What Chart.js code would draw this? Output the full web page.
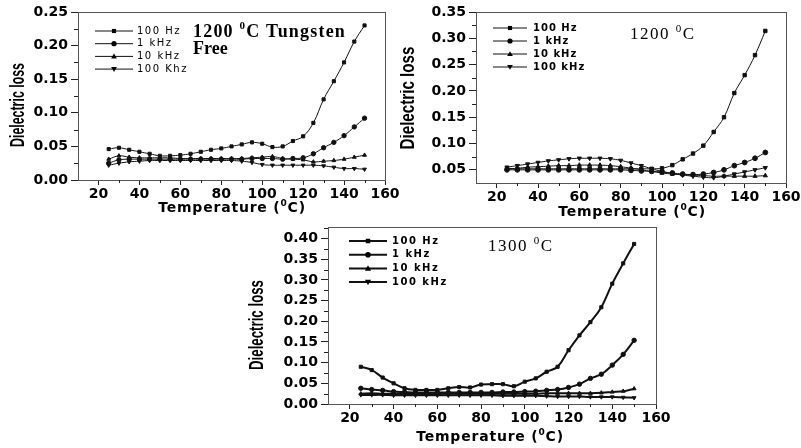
<!DOCTYPE html>
<html>
<head>
<meta charset="utf-8">
<script src="https://cdn.jsdelivr.net/npm/chart.js@4.4.0/dist/chart.umd.min.js"></script>
<style>
  body { margin: 0; background: #fff; }
  #wrap { position: relative; width: 801px; height: 448px; overflow: hidden; background: #fff; }
  canvas { position: absolute; }
</style>
</head>
<body>
<div id="wrap">
  <canvas id="c1" width="400" height="225" style="left:0px;top:0px"></canvas>
  <canvas id="c2" width="401" height="225" style="left:400px;top:0px"></canvas>
  <canvas id="c3" width="440" height="231" style="left:240px;top:217px"></canvas>
</div>
<script>
// temperatures (deg C) and x axis ticks, shared by all three panels
var temps = [25,30,35,40,45,50,55,60,65,70,75,80,85,90,95,100,105,110,115,120,125,130,135,140,145,150];
var xTickVals = [20,40,60,80,100,120,140,160];
var xMinorVals = [30,50,70,90,110,130,150];

var yTitleText = 'Dielectric loss';
var xTitleText = 'Temperature (^0C)';

// panel 1 : 1200 C tungsten free
var p1Names = ['100 Hz','1 kHz','10 kHz','100 Khz'];
var p1Hz100  = [0.046,0.048,0.045,0.042,0.039,0.036,0.036,0.037,0.039,0.042,0.045,0.047,0.050,0.053,0.056,0.054,0.049,0.050,0.058,0.065,0.085,0.120,0.147,0.175,0.206,0.230];
var p1kHz1   = [0.025,0.030,0.031,0.031,0.031,0.031,0.031,0.031,0.031,0.031,0.031,0.031,0.031,0.031,0.032,0.032,0.032,0.031,0.032,0.033,0.039,0.048,0.056,0.066,0.079,0.092];
var p1kHz10  = [0.031,0.036,0.034,0.033,0.033,0.033,0.033,0.032,0.032,0.032,0.032,0.032,0.032,0.032,0.033,0.034,0.035,0.032,0.031,0.030,0.027,0.028,0.029,0.031,0.034,0.037];
var p1kHz100 = [0.022,0.025,0.027,0.028,0.029,0.029,0.029,0.029,0.029,0.029,0.029,0.029,0.029,0.028,0.026,0.023,0.022,0.022,0.022,0.022,0.022,0.021,0.019,0.017,0.017,0.016];
var p1YTicks = [0.00,0.05,0.10,0.15,0.20,0.25];
var p1YMinor = [0.025,0.075,0.125,0.175,0.225];

// panel 2 : 1200 C
var p2Names = ['100 Hz','1 kHz','10 kHz','100 kHz'];
var p2Hz100  = [0.052,0.052,0.052,0.052,0.052,0.052,0.052,0.052,0.052,0.052,0.052,0.052,0.052,0.052,0.052,0.053,0.059,0.070,0.081,0.096,0.122,0.150,0.196,0.230,0.268,0.314];
var p2kHz1   = [0.050,0.050,0.050,0.050,0.050,0.050,0.050,0.050,0.050,0.050,0.050,0.050,0.049,0.048,0.047,0.046,0.044,0.042,0.041,0.042,0.045,0.050,0.058,0.064,0.072,0.083];
var p2kHz10  = [0.052,0.053,0.055,0.056,0.057,0.058,0.058,0.059,0.059,0.059,0.058,0.056,0.053,0.050,0.047,0.044,0.042,0.041,0.040,0.039,0.038,0.038,0.038,0.038,0.038,0.039];
var p2kHz100 = [0.055,0.058,0.061,0.064,0.067,0.069,0.071,0.072,0.072,0.072,0.071,0.068,0.063,0.058,0.052,0.047,0.043,0.040,0.038,0.036,0.035,0.038,0.042,0.046,0.050,0.054];
var p2YTicks = [0.05,0.10,0.15,0.20,0.25,0.30,0.35];
var p2YMinor = [0.075,0.125,0.175,0.225,0.275,0.325];

// panel 3 : 1300 C
var p3Names = ['100 Hz','1 kHz','10 kHz','100 kHz'];
var p3Hz100  = [0.090,0.082,0.064,0.050,0.038,0.034,0.034,0.034,0.038,0.041,0.040,0.047,0.048,0.048,0.043,0.054,0.062,0.078,0.090,0.130,0.166,0.198,0.234,0.291,0.340,0.387];
var p3kHz1   = [0.038,0.035,0.033,0.030,0.029,0.028,0.028,0.028,0.028,0.028,0.028,0.028,0.028,0.029,0.029,0.030,0.031,0.033,0.035,0.040,0.048,0.062,0.072,0.094,0.120,0.154];
var p3kHz10  = [0.025,0.026,0.025,0.025,0.024,0.024,0.024,0.024,0.025,0.025,0.025,0.025,0.025,0.025,0.025,0.025,0.025,0.026,0.026,0.026,0.026,0.026,0.027,0.029,0.031,0.037];
var p3kHz100 = [0.022,0.022,0.022,0.021,0.021,0.021,0.021,0.021,0.021,0.021,0.021,0.021,0.021,0.020,0.020,0.020,0.020,0.019,0.018,0.018,0.018,0.017,0.017,0.017,0.016,0.015];
var p3YTicks = [0.00,0.05,0.10,0.15,0.20,0.25,0.30,0.35,0.40];
var p3YMinor = [0.025,0.075,0.125,0.175,0.225,0.275,0.325,0.375,0.425];

var markerStyles = ['rect','circle','triangle','triangle'];
var markerRotation = [0,0,0,180];
var tickFont = {family: '"DejaVu Sans", sans-serif', size: 14, weight: 'bold'};

//draws a text with ^x meaning superscript x
function drawRich(ctx, text, x, y, size, style, family, spacing, align) {
    var parts = [], buf = '';
    for (var i = 0; i < text.length; i++) {
        if (text[i] === '^') {
            if (buf) parts.push({t: buf, sup: false});
            buf = '';
            parts.push({t: text[i + 1], sup: true});
            i++;
        } else buf += text[i];
    }
    if (buf) parts.push({t: buf, sup: false});
    ctx.letterSpacing = spacing + 'px';
    var total = 0;
    parts.forEach(function (p) {
        p.font = style + ' ' + (p.sup ? Math.round(size * 0.62) : size) + 'px ' + family;
        ctx.font = p.font;
        p.w = ctx.measureText(p.t).width;
        total += p.w;
    });
    var cx = align === 'center' ? x - total / 2 : x;
    ctx.textAlign = 'left';
    ctx.textBaseline = 'middle';
    parts.forEach(function (p) {
        ctx.font = p.font;
        ctx.fillText(p.t, cx, p.sup ? y - size * 0.33 : y);
        cx += p.w;
    });
    ctx.letterSpacing = '0px';
}

function drawMarker(ctx, style, rot, x, y, r) {
    ctx.beginPath();
    if (style === 'rect') {
        ctx.rect(x - r * 0.8, y - r * 0.8, r * 1.6, r * 1.6);
    } else if (style === 'circle') {
        ctx.arc(x, y, r, 0, Math.PI * 2);
    } else {
        var s = rot === 180 ? -1 : 1;
        ctx.moveTo(x, y - s * r * 1.1);
        ctx.lineTo(x + r * 1.1, y + s * r * 0.8);
        ctx.lineTo(x - r * 1.1, y + s * r * 0.8);
        ctx.closePath();
    }
    ctx.fill();
}

// frame, minor ticks, legend, titles
function decorPlugin(o) {
    return {
        id: 'decor',
        afterDraw: function (chart) {
            var ctx = chart.ctx, a = chart.chartArea;
            var xs = chart.scales.x, ys = chart.scales.y;
            ctx.save();
            ctx.strokeStyle = '#555';
            ctx.lineWidth = 1;
            ctx.strokeRect(Math.round(a.left) + 0.5, Math.round(a.top) + 0.5, Math.round(a.right - a.left), Math.round(a.bottom - a.top));
            ctx.strokeStyle = '#222';
            ctx.beginPath();
            xMinorVals.forEach(function (v) {
                var px = Math.round(xs.getPixelForValue(v)) + 0.5;
                ctx.moveTo(px, a.bottom); ctx.lineTo(px, a.bottom + 3);
            });
            o.yMinor.forEach(function (v) {
                var py = Math.round(ys.getPixelForValue(v)) + 0.5;
                ctx.moveTo(a.left - 4, py); ctx.lineTo(a.left, py);
            });
            ctx.stroke();

            // legend
            var lg = o.legend;
            ctx.fillStyle = '#000';
            ctx.strokeStyle = '#111';
            chart.data.datasets.forEach(function (ds, i) {
                var y = lg.y + i * lg.row;
                ctx.lineWidth = ds.borderWidth;
                ctx.beginPath();
                ctx.moveTo(lg.x, y); ctx.lineTo(lg.x + lg.len, y);
                ctx.stroke();
                drawMarker(ctx, ds.pointStyle, ds.pointRotation, lg.x + lg.len / 2, y, lg.r);
                ctx.font = lg.font;
                ctx.letterSpacing = lg.spacing + 'px';
                ctx.textAlign = 'left';
                ctx.textBaseline = 'middle';
                ctx.fillText(ds.label, lg.x + lg.len + lg.gap, y);
            });
            ctx.letterSpacing = '0px';

            // panel label
            o.label.forEach(function (l) {
                drawRich(ctx, l.text, l.x, l.y, l.size, l.style, '"Liberation Serif", "DejaVu Serif", serif', l.spacing, 'left');
            });

            // x title
            drawRich(ctx, xTitleText, o.xTitle.x, o.xTitle.y, 14, 'bold', '"DejaVu Sans", sans-serif', 0.8, 'center');

            // y title, narrow bold
            ctx.save();
            ctx.translate(o.yTitle.x, o.yTitle.y);
            ctx.rotate(-Math.PI / 2);
            ctx.font = 'bold 20px "Liberation Sans", Arial, sans-serif';
            var w = ctx.measureText(yTitleText).width;
            ctx.scale(o.yTitle.len / w, 1);
            ctx.textAlign = 'center';
            ctx.textBaseline = 'middle';
            ctx.fillText(yTitleText, 0, 0);
            ctx.restore();
            ctx.restore();
        }
    };
}

function makeChart(id, o) {
    var canvas = document.getElementById(id);
    var W = canvas.width, H = canvas.height;
    var datasets = o.series.map(function (vals, i) {
        return {
            label: o.names[i],
            data: temps.map(function (t, j) { return {x: t, y: vals[j]}; }),
            borderColor: '#111',
            backgroundColor: '#111',
            borderWidth: o.lineWidth,
            pointStyle: markerStyles[i],
            pointRotation: markerRotation[i],
            pointRadius: o.pointRadius,
            pointBorderWidth: 1,
            tension: 0.4,
            fill: false
        };
    });
    return new Chart(canvas, {
        type: 'line',
        data: {datasets: datasets},
        options: {
            responsive: false,
            animation: false,
            layout: {padding: {left: 0, top: o.area.t, right: W - o.area.r, bottom: 0}},
            plugins: {legend: {display: false}, tooltip: {enabled: false}},
            scales: {
                x: {
                    type: 'linear', min: 10, max: 160,
                    afterBuildTicks: function (s) { s.ticks = xTickVals.map(function (v) { return {value: v}; }); },
                    afterFit: function (s) { s.height = H - o.area.b; s.paddingLeft = 0; s.paddingRight = 0; },
                    grid: {drawOnChartArea: false, tickLength: 5, color: '#222'},
                    border: {color: '#222', width: 1},
                    ticks: {font: tickFont, color: '#000', padding: 1, maxRotation: 0, autoSkip: false}
                },
                y: {
                    type: 'linear', min: o.yMin, max: o.yMax,
                    afterBuildTicks: function (s) { s.ticks = o.yTicks.map(function (v) { return {value: v}; }); },
                    afterFit: function (s) { s.width = o.area.l; s.paddingTop = 0; s.paddingBottom = 0; },
                    grid: {drawOnChartArea: false, tickLength: 7, color: '#222'},
                    border: {color: '#222', width: 1},
                    ticks: {
                        font: tickFont, color: '#000', padding: 3, autoSkip: false,
                        callback: function (v) { return v.toFixed(2); }
                    }
                }
            }
        },
        plugins: [decorPlugin(o)]
    });
}

makeChart('c1', {
    names: p1Names, series: [p1Hz100, p1kHz1, p1kHz10, p1kHz100],
    yMin: 0, yMax: 0.25, yTicks: p1YTicks, yMinor: p1YMinor,
    area: {l: 78, t: 12, r: 385, b: 180},
    lineWidth: 1, pointRadius: 2.2,
    legend: {x: 95, y: 31, row: 12.7, len: 38, gap: 4, r: 2.6, font: '10px "DejaVu Sans", sans-serif', spacing: 1.5},
    label: [
        {text: '1200 ^0C Tungsten', x: 193, y: 32, size: 18, style: 'bold', spacing: 1.2},
        {text: 'Free', x: 193, y: 49, size: 18, style: 'bold', spacing: 0}
    ],
    xTitle: {x: 232, y: 208},
    yTitle: {x: 18, y: 105, len: 84}
});

makeChart('c2', {
    names: p2Names, series: [p2Hz100, p2kHz1, p2kHz10, p2kHz100],
    yMin: 0.025, yMax: 0.35, yTicks: p2YTicks, yMinor: p2YMinor,
    area: {l: 76, t: 12, r: 386, b: 183},
    lineWidth: 1, pointRadius: 2.4,
    legend: {x: 93, y: 28, row: 13, len: 34, gap: 6, r: 2.6, font: 'bold 10px "DejaVu Sans", sans-serif', spacing: 1},
    label: [
        {text: '1200 ^0C', x: 230, y: 35, size: 17, style: '', spacing: 1.5}
    ],
    xTitle: {x: 232, y: 212},
    yTitle: {x: 8, y: 98, len: 103}
});

makeChart('c3', {
    names: p3Names, series: [p3Hz100, p3kHz1, p3kHz10, p3kHz100],
    yMin: 0, yMax: 0.428, yTicks: p3YTicks, yMinor: p3YMinor,
    area: {l: 88, t: 10, r: 416, b: 187},
    lineWidth: 2, pointRadius: 2.2,
    legend: {x: 109, y: 24, row: 13.7, len: 38, gap: 5, r: 2.8, font: 'bold 10px "DejaVu Sans", sans-serif', spacing: 1.5},
    label: [
        {text: '1300 ^0C', x: 248, y: 30, size: 17, style: '', spacing: 1.5}
    ],
    xTitle: {x: 250, y: 220},
    yTitle: {x: 17, y: 108, len: 90}
});
</script>
</body>
</html>
